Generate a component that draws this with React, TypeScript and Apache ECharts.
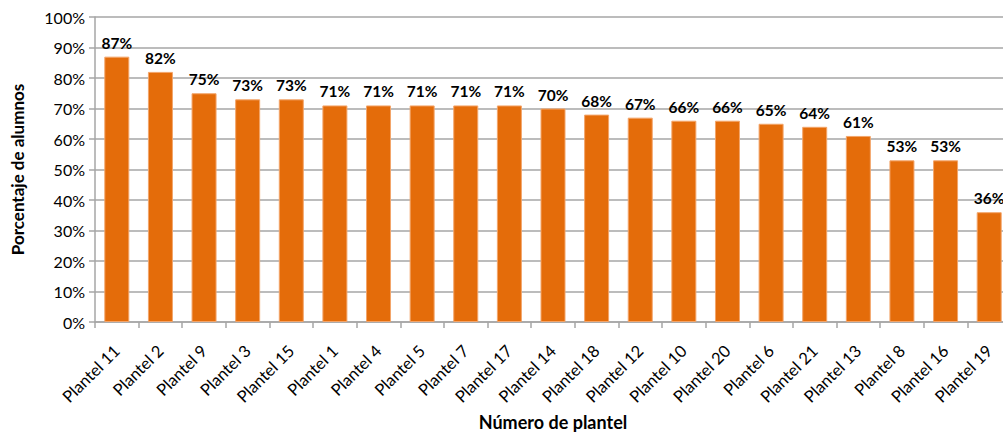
import React, { useEffect, useRef } from "react";
import * as echarts from "echarts";

const categories = ["Plantel 11", "Plantel 2", "Plantel 9", "Plantel 3", "Plantel 15", "Plantel 1", "Plantel 4", "Plantel 5", "Plantel 7", "Plantel 17", "Plantel 14", "Plantel 18", "Plantel 12", "Plantel 10", "Plantel 20", "Plantel 6", "Plantel 21", "Plantel 13", "Plantel 8", "Plantel 16", "Plantel 19"];
const values = [87, 82, 75, 73, 73, 71, 71, 71, 71, 71, 70, 68, 67, 66, 66, 65, 64, 61, 53, 53, 36];
const yAxisTitle = "Porcentaje de alumnos";
const xAxisTitle = "Número de plantel";

const FONT = "Lato, 'Open Sans', sans-serif";

export default function App() {
  const ref = useRef<HTMLDivElement>(null);
  useEffect(() => {
    if (!ref.current) return;
    const chart = echarts.init(ref.current, undefined, { renderer: "svg" });
    chart.setOption({
      animation: false,
      backgroundColor: "#ffffff",
      grid: { left: 95, right: -8, top: 17, bottom: 111, containLabel: false, outerBoundsMode: "none" },
      xAxis: {
        type: "category",
        data: categories,
        name: xAxisTitle,
        nameLocation: "middle",
        nameGap: 91,
        nameTextStyle: { fontFamily: FONT, fontWeight: "bold", fontSize: 18, color: "#000" },
        axisLine: { lineStyle: { color: "#a6a6a6", width: 1.5 } },
        axisTick: { show: true, alignWithLabel: false, length: 6, lineStyle: { color: "#a6a6a6", width: 1.5 } },
        axisLabel: { rotate: 45, fontFamily: FONT, fontSize: 16.5, color: "#000", margin: 26, interval: 0, padding: [0, 0, 0, 0] },
      },
      yAxis: {
        type: "value",
        min: 0,
        max: 100,
        interval: 10,
        name: yAxisTitle,
        nameLocation: "middle",
        nameGap: 69,
        nameRotate: 90,
        nameTextStyle: { fontFamily: FONT, fontWeight: "bold", fontSize: 17, color: "#000" },
        axisLine: { show: true, lineStyle: { color: "#a6a6a6", width: 1.5 } },
        axisTick: { show: true, length: 6, lineStyle: { color: "#a6a6a6", width: 1.5 } },
        axisLabel: { formatter: "{value}%", fontFamily: FONT, fontSize: 16, color: "#000", margin: 10 },
        splitLine: { show: true, lineStyle: { color: "#a6a6a6", width: 1.5 } },
      },
      series: [
        {
          type: "bar",
          data: values,
          barWidth: 25,
          itemStyle: { color: "#e46c0a", borderColor: "#f3a56a", borderWidth: 1 },
          label: {
            show: true,
            position: "top",
            distance: 6,
            formatter: "{c}%",
            fontFamily: FONT,
            fontWeight: "bold",
            fontSize: 15.5,
            color: "#000",
          },
        },
      ],
    });
    return () => chart.dispose();
  }, []);
  return (
    <div
      ref={ref}
      style={{ position: "fixed", left: 0, top: 0, width: 1003, height: 433 }}
    />
  );
}
